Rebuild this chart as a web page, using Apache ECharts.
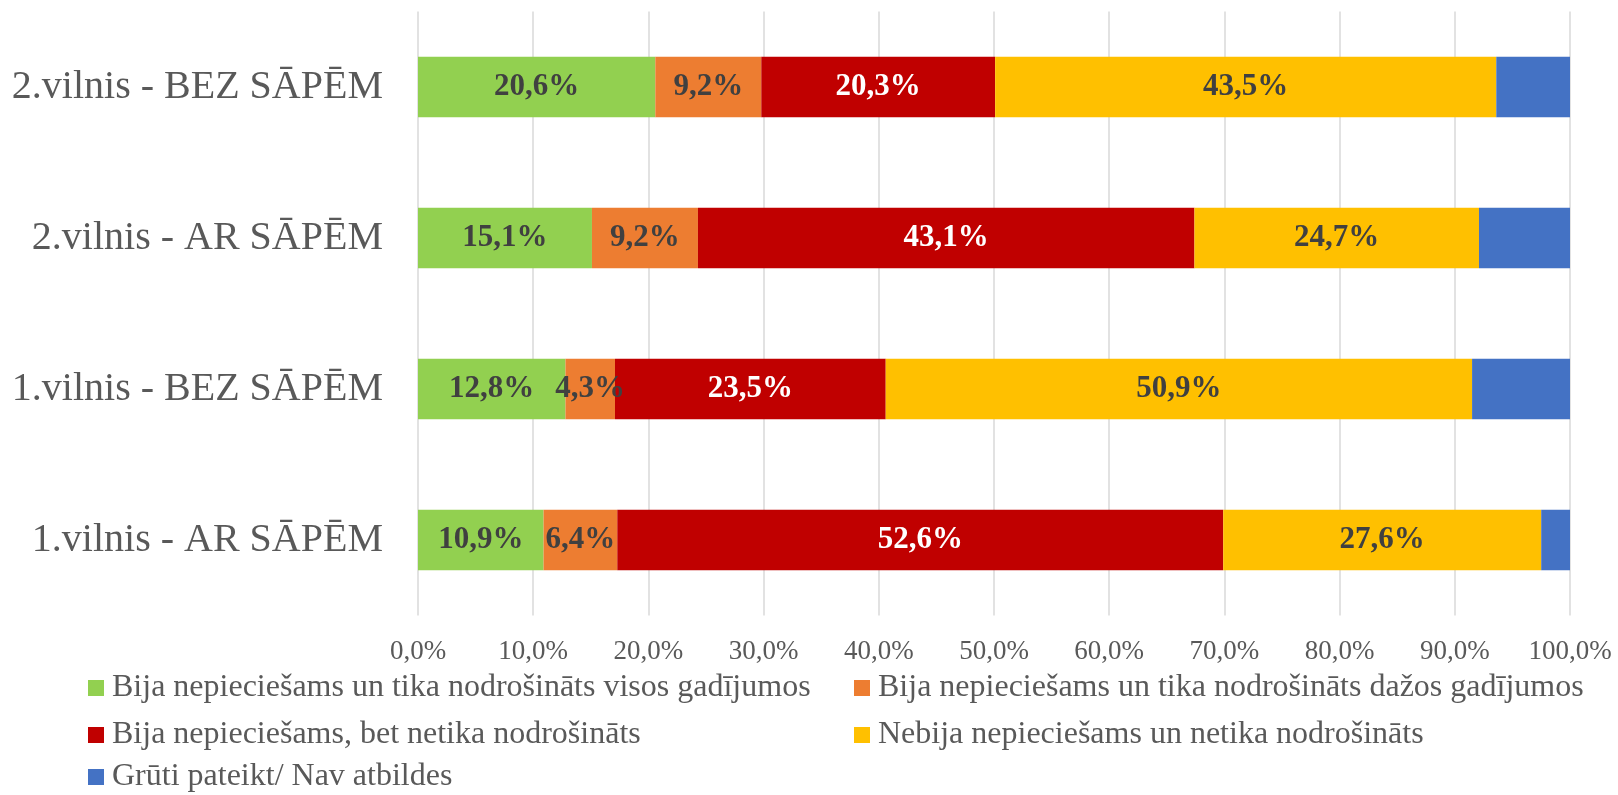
<!DOCTYPE html>
<html>
<head>
<meta charset="utf-8">
<script src="https://cdn.jsdelivr.net/npm/echarts@6/dist/echarts.min.js"></script>
<style>
html,body{margin:0;padding:0;background:#fff;}
#chart{width:1618px;height:795px;}
</style>
</head>
<body>
<div id="chart"></div>
<script>
const categories = ['1.vilnis - AR SĀPĒM', '1.vilnis - BEZ SĀPĒM', '2.vilnis - AR SĀPĒM', '2.vilnis - BEZ SĀPĒM'];
const seriesNames = [
  'Bija nepieciešams un tika nodrošināts visos gadījumos',
  'Bija nepieciešams un tika nodrošināts dažos gadījumos',
  'Bija nepieciešams, bet netika nodrošināts',
  'Nebija nepieciešams un netika nodrošināts',
  'Grūti pateikt/ Nav atbildes'
];
const visosValues  = [10.9, 12.8, 15.1, 20.6];
const dazosValues  = [6.4, 4.3, 9.2, 9.2];
const netikaValues = [52.6, 23.5, 43.1, 20.3];
const nebijaValues = [27.6, 50.9, 24.7, 43.5];
const grutiValues  = [2.5, 8.5, 7.9, 6.4];
const tickLabels = ['0,0%','10,0%','20,0%','30,0%','40,0%','50,0%','60,0%','70,0%','80,0%','90,0%','100,0%'];

const colors = ['#92D050', '#ED7D31', '#C00000', '#FFC000', '#4472C4'];
const labelColors = ['#404040', '#404040', '#FFFFFF', '#404040', null];
const allValues = [visosValues, dazosValues, netikaValues, nebijaValues, grutiValues];
const FONT = '"Liberation Serif", "Times New Roman", serif';

const series = allValues.map((vals, i) => ({
  name: seriesNames[i],
  type: 'bar',
  stack: 'total',
  barCategoryGap: '60%',
  data: vals,
  itemStyle: { color: colors[i] },
  label: labelColors[i] ? {
    show: true,
    position: 'inside',
    color: labelColors[i],
    fontFamily: FONT,
    fontWeight: 'bold',
    fontSize: 31,
    formatter: p => p.value.toFixed(1).replace('.', ',') + '%'
  } : { show: false },
  emphasis: { disabled: true }
}));

const legendPos = [
  { left: 88, top: 672 },
  { left: 854, top: 672 },
  { left: 88, top: 719 },
  { left: 854, top: 719 },
  { left: 88, top: 761 }
];
const legends = seriesNames.map((n, i) => ({
  data: [n],
  left: legendPos[i].left,
  top: legendPos[i].top,
  padding: 0,
  itemWidth: 16,
  itemHeight: 16,
  selectedMode: false,
  icon: 'rect',
  textStyle: { fontFamily: FONT, fontSize: 32, color: '#595959', padding: [0, 0, 0, 3] }
}));

const chart = echarts.init(document.getElementById('chart'));
chart.setOption({
  animation: false,
  backgroundColor: '#fff',
  grid: { left: 418, right: 48, top: 11.5, bottom: 179.5, containLabel: false },
  legend: legends,
  xAxis: {
    type: 'value',
    min: 0, max: 100, interval: 10,
    axisLine: { show: false },
    axisTick: { show: false },
    splitLine: { show: true, lineStyle: { color: '#D9D9D9', width: 1.5 } },
    axisLabel: {
      margin: 23,
      fontFamily: FONT, fontSize: 27, color: '#595959',
      formatter: v => tickLabels[Math.round(v / 10)]
    }
  },
  yAxis: {
    type: 'category',
    data: categories,
    axisLine: { show: false },
    axisTick: { show: false },
    axisLabel: { margin: 35, fontFamily: FONT, fontSize: 40, color: '#595959' }
  },
  series: series
});
</script>
</body>
</html>
